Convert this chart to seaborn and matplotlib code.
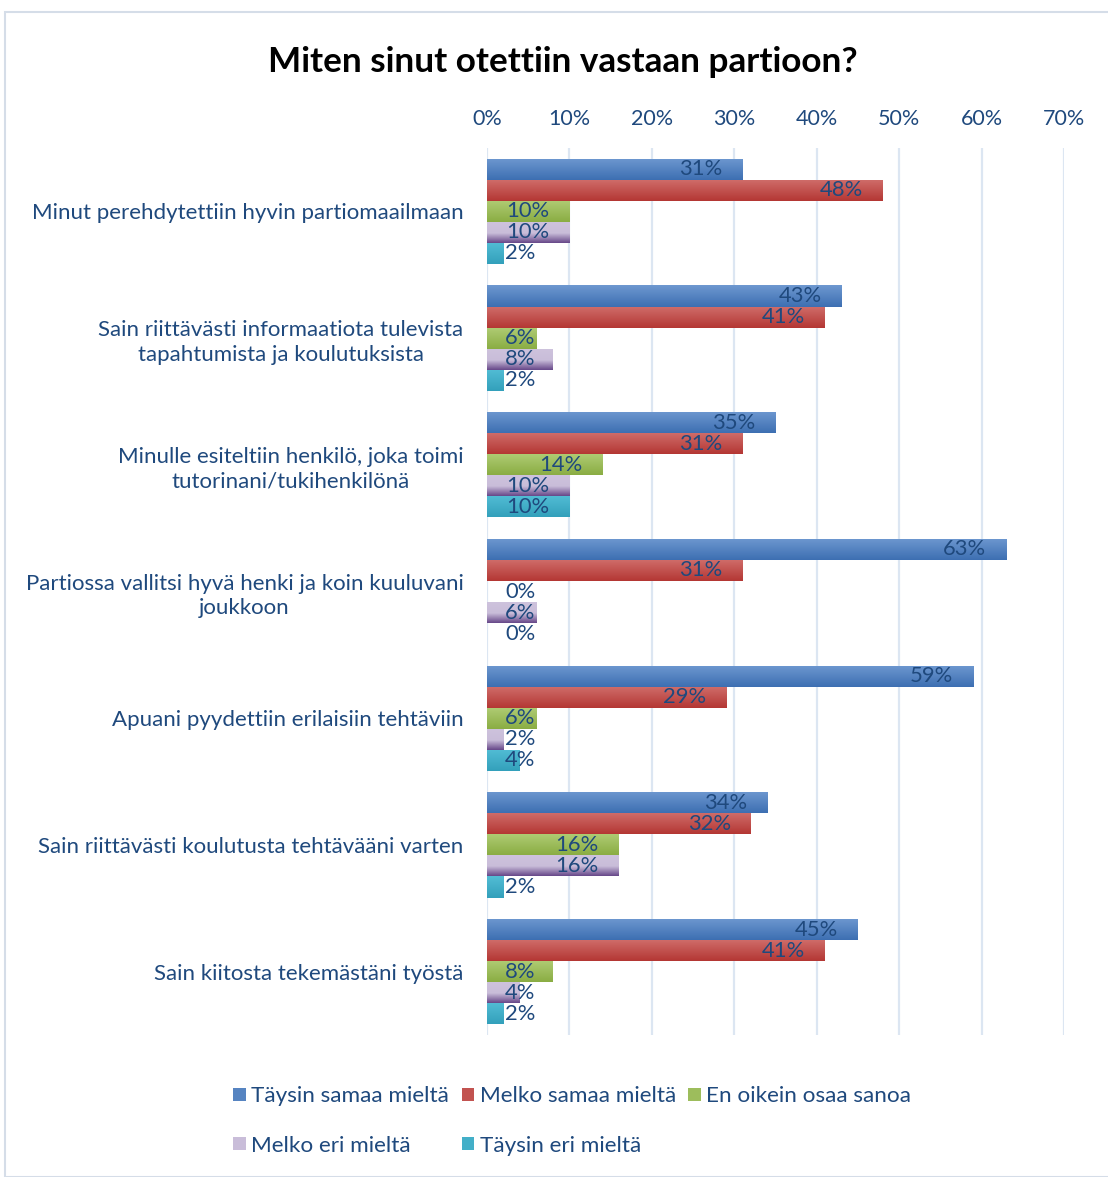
import numpy as np
import pandas as pd
import matplotlib
matplotlib.use("Agg")
import matplotlib.pyplot as plt
import seaborn as sns
from matplotlib.patches import Rectangle
from matplotlib.colors import to_rgb

categories = [
    "Minut perehdytettiin hyvin partiomaailmaan",
    "Sain riittävästi informaatiota tulevista\ntapahtumista ja koulutuksista",
    "Minulle esiteltiin henkilö, joka toimi\ntutorinani/tukihenkilönä",
    "Partiossa vallitsi hyvä henki ja koin kuuluvani\njoukkoon",
    "Apuani pyydettiin erilaisiin tehtäviin",
    "Sain riittävästi koulutusta tehtävääni varten",
    "Sain kiitosta tekemästäni työstä",
]
series = ["Täysin samaa mieltä", "Melko samaa mieltä", "En oikein osaa sanoa",
          "Melko eri mieltä", "Täysin eri mieltä"]
taysin_samaa = [31, 43, 35, 63, 59, 34, 45]
melko_samaa = [48, 41, 31, 31, 29, 32, 41]
en_osaa = [10, 6, 14, 0, 6, 16, 8]
melko_eri = [10, 8, 10, 6, 2, 16, 4]
taysin_eri = [2, 2, 10, 0, 4, 2, 2]
xticks = [0, 10, 20, 30, 40, 50, 60, 70]

values = [taysin_samaa, melko_samaa, en_osaa, melko_eri, taysin_eri]
rows = []
for s, vals in zip(series, values):
    for c, v in zip(categories, vals):
        rows.append({"cat": c, "series": s, "value": v})
df = pd.DataFrame(rows)

base_cols = ["#4F81BD", "#C0504D", "#9BBB59", "#B3A2C7", "#4BACC6"]
grad = {
    0: [(0.0, "#6E98D0"), (1.0, "#3D6FB2")],
    1: [(0.0, "#D06E6B"), (1.0, "#B43734")],
    2: [(0.0, "#B0CC75"), (1.0, "#8AAD43")],
    3: [(0.0, "#CEC3DD"), (0.55, "#C9BDD9"), (1.0, "#674889")],
    4: [(0.0, "#52BDD5"), (1.0, "#33A0BB")],
}
txt_col = "#1F497D"

sns.set_theme(style="white")
plt.rcParams['font.family'] = ['Lato', 'DejaVu Sans']

W, H = 1108, 1177
fig = plt.figure(figsize=(W / 100, H / 100), dpi=100)
fig.patches.append(Rectangle((5 / W, 0), 1.2, 1 - 12 / H, transform=fig.transFigure,
                             fill=False, edgecolor="#D5DDE8", linewidth=1.5))

ax = fig.add_axes([487 / W, 1 - 1035 / H, (1064 - 487) / W, (1035 - 148) / H])
sns.barplot(data=df, y="cat", x="value", hue="series", hue_order=series,
            order=categories, palette=base_cols, width=0.83, orient="h",
            ax=ax, legend=False, saturation=1, linewidth=0)

ax.set_xlim(0, 70)
ax.set_ylim(6.5, -0.5)

def make_grad(stops, n=64):
    t = np.linspace(0, 1, n)
    pos = [p for p, _ in stops]
    cols = np.array([to_rgb(c) for _, c in stops])
    img = np.stack([np.interp(t, pos, cols[:, k]) for k in range(3)], axis=-1)
    return img[:, None, :]

for si, cont in enumerate(ax.containers):
    img = make_grad(grad[si])
    for p in cont.patches:
        x0, y0 = p.get_x(), p.get_y()
        w, h = p.get_width(), p.get_height()
        if w <= 0:
            continue
        im = ax.imshow(img, extent=(x0, x0 + w, y0 + h, y0), aspect="auto",
                       origin="upper", zorder=2.5, interpolation="bilinear")
        im.set_clip_path(p)
ax.set_xlim(0, 70)
ax.set_ylim(6.5, -0.5)

ax.set_xticks(xticks)
ax.set_xticklabels([f"{t}%" for t in xticks])
ax.xaxis.tick_top()
ax.grid(axis="x", color="#DCE6F2", linewidth=1.6, zorder=0)
ax.set_axisbelow(True)
for s in ax.spines.values():
    s.set_visible(False)
ax.tick_params(axis="x", length=0, pad=14, labelsize=15.5, labelcolor=txt_col)
ax.tick_params(axis="y", length=0, pad=17, labelsize=16.0, labelcolor=txt_col)
for lab in ax.get_yticklabels():
    lab.set_multialignment("center")
    lab.set_linespacing(1.3)
ax.set_xlabel("")
ax.set_ylabel("")

fig.canvas.draw()
renderer = fig.canvas.get_renderer()
px_per_unit = ax.transData.transform((1, 0))[0] - ax.transData.transform((0, 0))[0]
for si, cont in enumerate(ax.containers):
    for ci, p in enumerate(cont.patches):
        v = values[si][ci]
        yc = p.get_y() + p.get_height() / 2
        t = ax.text(v - 20 / px_per_unit, yc, f"{v}%", ha="right", va="center",
                    fontsize=15.8, color=txt_col, zorder=5)
        bb = t.get_window_extent(renderer)
        left_px = bb.x0 - ax.transData.transform((0, 0))[0]
        if left_px < 18:
            t.set_x(18 / px_per_unit)
            t.set_ha("left")

fig.text(563 / W, 1 - 62 / H, "Miten sinut otettiin vastaan partioon?",
         ha="center", va="center", fontsize=25.3, fontweight="bold", color="black")

handles = {}
for si in range(5):
    fc = make_grad(grad[si], 3)[1, 0] if si != 3 else "#C9BDD9"
    handles[si] = Rectangle((0, 0), 1, 1, facecolor=fc, edgecolor="none")
order = [0, 3, 1, 4, 2]
leg = fig.legend([handles[i] for i in order], [series[i] for i in order],
                 loc="upper left", bbox_to_anchor=(222 / W, 1 - 1075 / H), ncol=3,
                 frameon=False, fontsize=16.2, handlelength=0.55, handleheight=0.55,
                 handletextpad=0.25, columnspacing=0.55, labelspacing=1.3, borderpad=0)
for t in leg.get_texts():
    t.set_color(txt_col)

fig.savefig("out.png", dpi=100)
